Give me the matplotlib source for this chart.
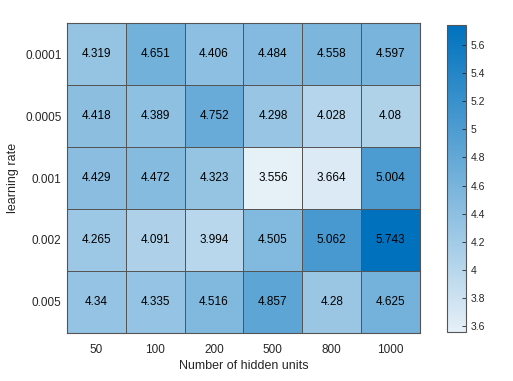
import matplotlib
matplotlib.use("Agg")
import matplotlib.pyplot as plt
import numpy as np
from matplotlib.colors import LinearSegmentedColormap
from matplotlib.ticker import FuncFormatter

plt.rcParams['font.family'] = ['Liberation Sans', 'DejaVu Sans']

hidden_units = ['50', '100', '200', '500', '800', '1000']
learning_rates = ['0.0001', '0.0005', '0.001', '0.002', '0.005']
loss = np.array([
    [4.319, 4.651, 4.406, 4.484, 4.558, 4.597],
    [4.418, 4.389, 4.752, 4.298, 4.028, 4.08],
    [4.429, 4.472, 4.323, 3.556, 3.664, 5.004],
    [4.265, 4.091, 3.994, 4.505, 5.062, 5.743],
    [4.34, 4.335, 4.516, 4.857, 4.28, 4.625],
])

cmap = LinearSegmentedColormap.from_list('sky', [(0.90, 0.94, 0.97), (0.0, 0.447, 0.741)])

fig = plt.figure(figsize=(5.13, 3.81), dpi=100)
ax = fig.add_axes([0.1306, 0.126, 0.688, 0.8136])
cax = fig.add_axes([0.871, 0.1286, 0.037, 0.8054])

vmin, vmax = loss.min(), loss.max()
im = ax.pcolormesh(loss, cmap=cmap, vmin=vmin, vmax=vmax, edgecolor='#555555', linewidth=0.6)
ax.set_xlim(0, len(hidden_units))
ax.set_ylim(len(learning_rates), 0)

for i in range(len(learning_rates)):
    for j in range(len(hidden_units)):
        ax.text(j + 0.5, i + 0.5, f'{loss[i, j]:g}', ha='center', va='center', fontsize=8.5, color='black')

ax.set_xticks(np.arange(len(hidden_units)) + 0.5)
ax.set_xticklabels(hidden_units)
ax.set_yticks(np.arange(len(learning_rates)) + 0.5)
ax.set_yticklabels(learning_rates)
ax.tick_params(length=0, labelsize=8.5, colors='#262626')
ax.tick_params(axis='x', pad=8)
ax.tick_params(axis='y', pad=4)
for s in ax.spines.values():
    s.set_color('#555555')
    s.set_linewidth(0.8)
ax.set_xlabel('Number of hidden units', fontsize=9, color='#262626', labelpad=3)
ax.set_ylabel('learning rate', fontsize=9, color='#262626')
ax.yaxis.set_label_coords(-0.135, 0.5)

cb = fig.colorbar(im, cax=cax)
cb.set_ticks(np.arange(3.6, 5.61, 0.2))
cb.ax.yaxis.set_major_formatter(FuncFormatter(lambda v, p: f'{v:g}'))
cb.ax.tick_params(labelsize=7.5, direction='in', length=3, colors='#262626', width=0.6)
cb.outline.set_edgecolor('#555555')
cb.outline.set_linewidth(0.8)

fig.savefig('out.png', dpi=100)
